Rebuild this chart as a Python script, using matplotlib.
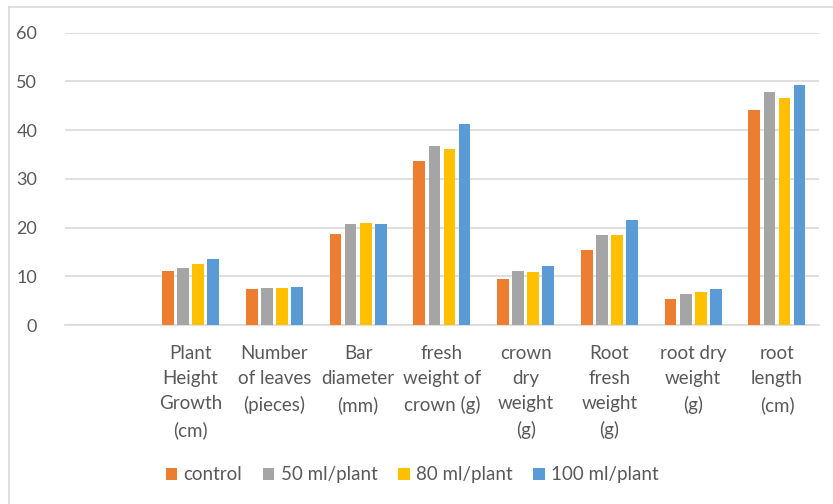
import numpy as np
import matplotlib.pyplot as plt

plt.rcParams['font.family'] = ['Lato', 'DejaVu Sans']

categories = ["", "Plant\nHeight\nGrowth\n(cm)", "Number\nof leaves\n(pieces)",
              "Bar\ndiameter\n(mm)", "fresh\nweight of\ncrown (g)",
              "crown\ndry\nweight\n(g)", "Root\nfresh\nweight\n(g)",
              "root dry\nweight\n(g)", "root\nlength\n(cm)"]
series = ["control", "50 ml/plant", "80 ml/plant", "100 ml/plant"]
control = [np.nan, 11.0, 7.4, 18.7, 33.7, 9.4, 15.5, 5.3, 44.2]
ml50 = [np.nan, 11.8, 7.7, 20.8, 36.8, 11.2, 18.4, 6.4, 47.8]
ml80 = [np.nan, 12.5, 7.7, 21.0, 36.1, 10.9, 18.4, 6.8, 46.7]
ml100 = [np.nan, 13.6, 7.8, 20.7, 41.2, 12.2, 21.5, 7.5, 49.3]
colors = ["#ED7D31", "#A5A5A5", "#FFC000", "#5B9BD5"]

fig = plt.figure(figsize=(8.33, 5.04), dpi=100)
ax = fig.add_axes([0.078, 0.355, 0.905, 0.58])

x = np.arange(len(categories))
w = 0.14
step = 0.18
for i, (vals, name) in enumerate(zip([control, ml50, ml80, ml100], series)):
    ax.bar(x + (i - 1.5) * step, vals, w, color=colors[i], label=name, zorder=3)

ax.set_xlim(-0.5, len(categories) - 0.5)
ax.set_ylim(0, 60)
ax.set_yticks(range(0, 61, 10))
ax.set_xticks(x)
ax.set_xticklabels(categories, fontsize=13.5, color="#595959", linespacing=1.6)
ax.tick_params(axis='both', length=0, labelcolor="#595959")
ax.tick_params(axis='y', labelsize=13)
ax.tick_params(axis='x', pad=14)
ax.tick_params(axis='y', pad=20)
ax.grid(axis='y', color="#D9D9D9", linewidth=1.2, zorder=0)
for s in ['top', 'right', 'left']:
    ax.spines[s].set_visible(False)
ax.spines['bottom'].set_color("#D9D9D9")
ax.spines['bottom'].set_linewidth(1.2)

fig.legend(loc='center', bbox_to_anchor=(0.495, 0.058), ncol=4, frameon=False,
           fontsize=13.5, handlelength=0.6, handleheight=0.6, handletextpad=0.35,
           columnspacing=1.1, labelcolor="#595959")

# chart border (top and left edges visible)
fig.add_artist(plt.Line2D([0.011, 1.0], [0.986, 0.986], color="#D9D9D9", linewidth=1.2))
fig.add_artist(plt.Line2D([0.011, 0.011], [0.0, 0.986], color="#D9D9D9", linewidth=1.2))

fig.savefig("out.png", dpi=100)
